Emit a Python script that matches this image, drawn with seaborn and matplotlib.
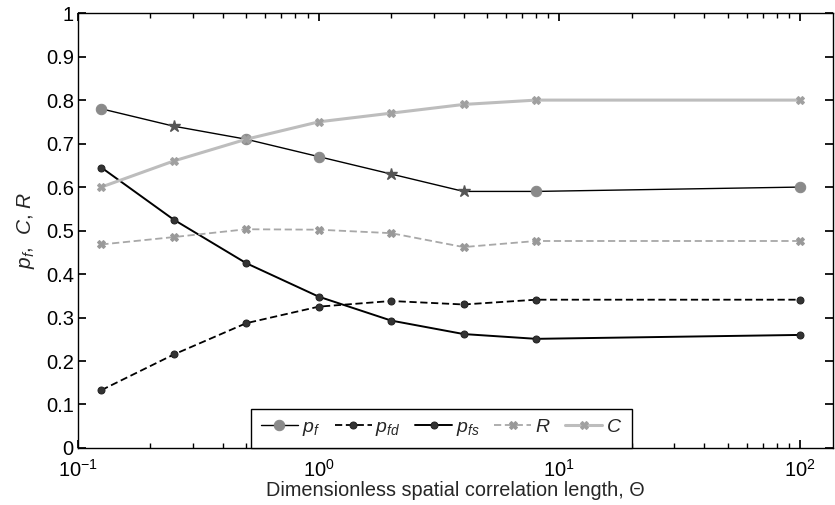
import numpy as np
import pandas as pd
import matplotlib
matplotlib.use("Agg")
import matplotlib.pyplot as plt
import seaborn as sns
from matplotlib.ticker import LogLocator, NullFormatter, FixedLocator

# Correlation lengths and results
theta = [0.125, 0.25, 0.5, 1.0, 2.0, 4.0, 8.0, 100.0]
p_f = [0.78, 0.74, 0.71, 0.67, 0.63, 0.59, 0.59, 0.60]
p_fd = [0.133, 0.215, 0.287, 0.325, 0.338, 0.330, 0.341, 0.341]
p_fs = [0.645, 0.525, 0.425, 0.348, 0.293, 0.262, 0.251, 0.260]
R = [0.468, 0.485, 0.503, 0.502, 0.494, 0.462, 0.476, 0.476]
C = [0.600, 0.660, 0.710, 0.750, 0.770, 0.790, 0.800, 0.800]
y_ticks = [0, 0.1, 0.2, 0.3, 0.4, 0.5, 0.6, 0.7, 0.8, 0.9, 1.0]

df = pd.DataFrame({"theta": theta, "p_f": p_f, "p_fd": p_fd,
                   "p_fs": p_fs, "R": R, "C": C})

sns.set_theme(style="ticks")
plt.rcParams["font.family"] = ["Liberation Sans", "DejaVu Sans"]
plt.rcParams["mathtext.fontset"] = "custom"
plt.rcParams["mathtext.rm"] = "Liberation Sans"
plt.rcParams["mathtext.it"] = "Liberation Sans:italic"

fig = plt.figure(figsize=(8.35, 5.05), dpi=100)
ax = fig.add_axes([0.0934, 0.1129, 0.9042, 0.8611])

# p_f: thin black line with grey round markers (stars at a few points)
sns.lineplot(data=df, x="theta", y="p_f", ax=ax, color="black", lw=1.0,
             marker="o", markersize=7.5, markerfacecolor="#8a8a8a",
             markeredgecolor="#8a8a8a", markevery=[0, 2, 3, 6, 7],
             label=r"$p_f$")
ax.plot(df["theta"], df["p_f"], ls="none", marker="*", markersize=9,
        color="#555555", markevery=[1, 4, 5], zorder=3)
sns.lineplot(data=df, x="theta", y="p_fd", ax=ax, color="black", lw=1.3,
             ls=(0, (4, 2)), marker="o", markersize=5, markerfacecolor="#333333",
             markeredgecolor="#222222", label=r"$p_{fd}$")
sns.lineplot(data=df, x="theta", y="p_fs", ax=ax, color="black", lw=1.4,
             marker="o", markersize=5, markerfacecolor="#333333",
             markeredgecolor="#222222", label=r"$p_{fs}$")
sns.lineplot(data=df, x="theta", y="R", ax=ax, color="#a8a8a8", lw=1.3,
             ls=(0, (4, 2)), marker="X", markersize=6, markerfacecolor="#999999",
             markeredgecolor="#999999", label=r"$R$")
sns.lineplot(data=df, x="theta", y="C", ax=ax, color="#bdbdbd", lw=2.2,
             marker="X", markersize=6, markerfacecolor="#a0a0a0",
             markeredgecolor="#a0a0a0", label=r"$C$")

ax.set_xscale("log")
ax.set_xlim(0.1, 137)
ax.set_ylim(0, 1)
ax.yaxis.set_major_locator(FixedLocator(y_ticks))
ax.set_yticklabels([f"{v:g}" for v in y_ticks])
ax.xaxis.set_major_locator(LogLocator(base=10, numticks=10))
ax.xaxis.set_minor_locator(LogLocator(base=10, subs=np.arange(2, 10), numticks=20))
ax.xaxis.set_minor_formatter(NullFormatter())

for s in ax.spines.values():
    s.set_visible(True)
    s.set_color("black")
    s.set_linewidth(1.0)
ax.tick_params(which="both", direction="in", top=True, right=True,
               labelsize=14.5, colors="black")
ax.tick_params(which="major", length=6)
ax.tick_params(which="minor", length=3.5)
ax.tick_params(axis="x", pad=8)
ax.tick_params(axis="y", pad=3)

ax.set_xlabel("Dimensionless spatial correlation length, \u0398", fontsize=14.3,
              labelpad=0)
ax.set_ylabel(r"$p_f$,  $C$, $R$", fontsize=15, labelpad=6)

leg = ax.legend(loc="lower center", bbox_to_anchor=(0.4815, 0.0), ncol=5,
                frameon=True, fancybox=False, edgecolor="black",
                borderaxespad=0, handlelength=1.9, columnspacing=0.75,
                handletextpad=0.2, fontsize=14, borderpad=0.5)
leg.get_frame().set_linewidth(1.0)
leg.get_frame().set_alpha(1)

fig.savefig("out.png", dpi=100)
